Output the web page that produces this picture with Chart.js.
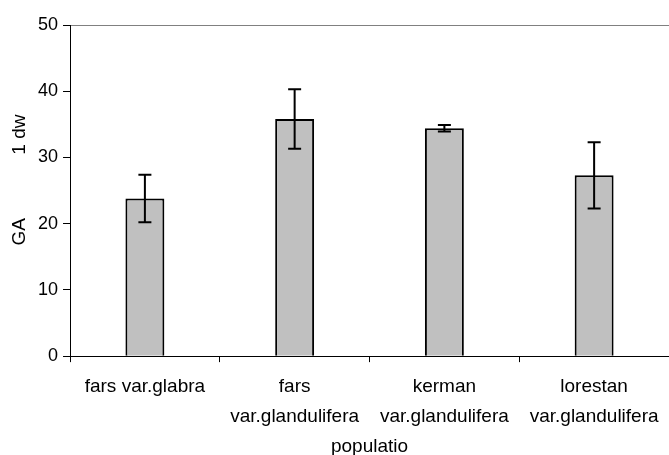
<!DOCTYPE html>
<html>
<head>
<meta charset="utf-8">
<script src="https://cdn.jsdelivr.net/npm/chart.js@4"></script>
<style>
  body { margin: 0; background: #fff; }
  canvas { display: block; }
</style>
</head>
<body>
<canvas id="gaChart" width="669" height="455"></canvas>
<script>
const populations = ["fars var.glabra", ["fars", "var.glandulifera"], ["kerman", "var.glandulifera"], ["lorestan", "var.glandulifera"]];
const gaValues = [23.8, 35.8, 34.4, 27.3];
const gaErrors = [3.6, 4.5, 0.5, 5.0];
const yMin = 0;
const yMax = 50;
const yStep = 10;

const font = "'Liberation Sans', Arial, sans-serif";

// error bars drawn on top of the bars, through the y scale
const errorBars = {
  id: "errorBars",
  afterDatasetsDraw(chart) {
    const ctx = chart.ctx;
    const y = chart.scales.y;
    const meta = chart.getDatasetMeta(0);
    ctx.save();
    ctx.strokeStyle = "#000";
    ctx.lineWidth = 2;
    meta.data.forEach((bar, i) => {
      const x = bar.x;
      const top = y.getPixelForValue(gaValues[i] + gaErrors[i]);
      const bot = y.getPixelForValue(gaValues[i] - gaErrors[i]);
      ctx.beginPath();
      ctx.moveTo(x, top); ctx.lineTo(x, bot);
      ctx.moveTo(x - 6.5, top); ctx.lineTo(x + 6.5, top);
      ctx.moveTo(x - 6.5, bot); ctx.lineTo(x + 6.5, bot);
      ctx.stroke();
    });
    ctx.restore();
  }
};

const ctx = document.getElementById("gaChart").getContext("2d");

new Chart(ctx, {
  type: "bar",
  data: {
    labels: populations,
    datasets: [{
      data: gaValues,
      backgroundColor: "#c0c0c0",
      borderColor: "#000",
      borderWidth: 2,
      barPercentage: 0.26,
      categoryPercentage: 1
    }]
  },
  options: {
    responsive: false,
    animation: false,
    layout: { padding: { top: 25, left: 0, right: 0, bottom: 0 } },
    plugins: {
      legend: { display: false },
      tooltip: { enabled: false }
    },
    scales: {
      x: {
        grid: {
          offset: true,
          drawOnChartArea: false,
          tickLength: 6,
          tickColor: "#000"
        },
        border: { color: "#000", width: 1 },
        ticks: {
          color: "#000",
          padding: 10,
          maxRotation: 0,
          autoSkip: false,
          font: { family: font, size: 19, lineHeight: 1.55 }
        },
        title: {
          display: true,
          text: "populatio",
          color: "#000",
          font: { family: font, size: 19, lineHeight: 0.63 },
          padding: { top: 0, bottom: 2 }
        }
      },
      y: {
        min: yMin,
        max: yMax,
        grid: {
          color: c => c.tick && c.tick.value === yMax ? "#808080" : "rgba(0,0,0,0)",
          tickColor: "#000",
          tickLength: 7
        },
        border: { color: "#000", width: 1 },
        ticks: {
          stepSize: yStep,
          color: "#000",
          padding: 5,
          font: { family: font, size: 18 }
        },
        title: {
          display: true,
          text: "    GA            1 dw",
          color: "#000",
          font: { family: font, size: 19, lineHeight: 1.2 },
          padding: { top: 8.6, bottom: 1.6 }
        }
      }
    }
  },
  plugins: [errorBars]
});
</script>
</body>
</html>
